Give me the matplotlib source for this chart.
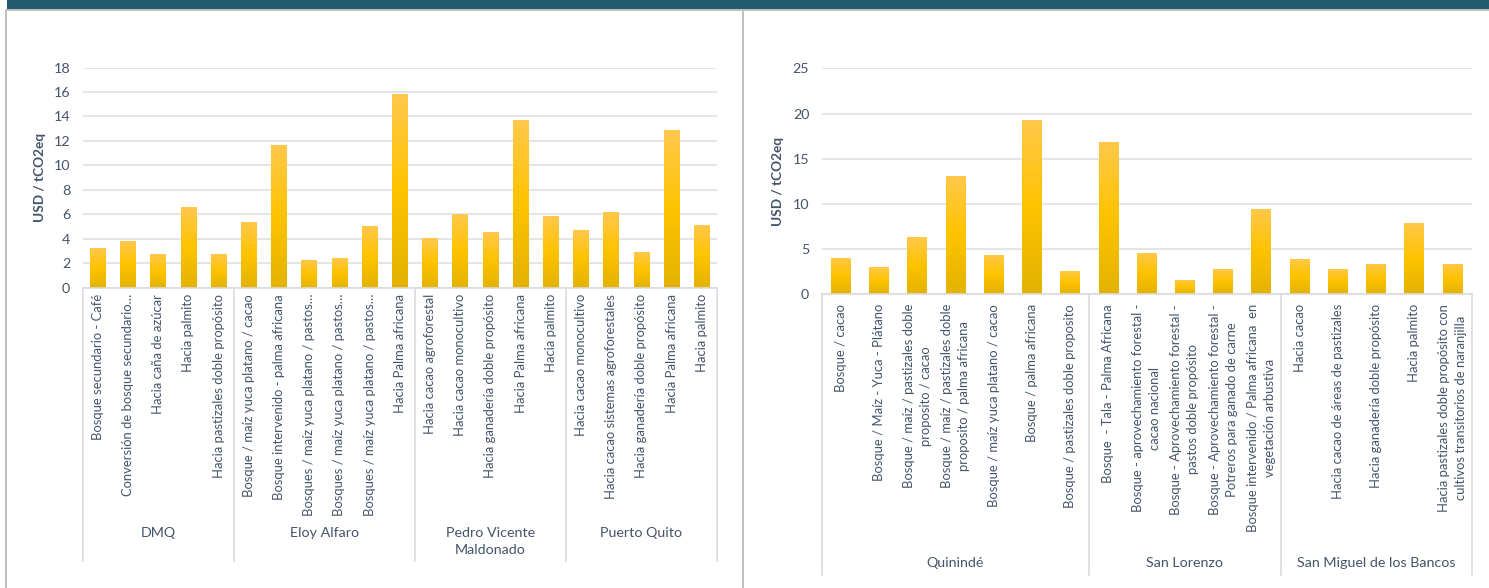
import numpy as np
import matplotlib
matplotlib.use("Agg")
import matplotlib.pyplot as plt
from matplotlib.colors import LinearSegmentedColormap
from matplotlib.transforms import blended_transform_factory
from matplotlib.patches import Rectangle
from matplotlib.lines import Line2D

W, H = 1489, 588

# ---- left chart data ----
left_groups = ["DMQ", "Eloy Alfaro", "Pedro Vicente\nMaldonado", "Puerto Quito"]
left_group_sizes = [5, 6, 5, 5]
left_labels = [
    "Bosque secundario - Café",
    "Conversión de bosque secundario…",
    "Hacia caña de azúcar",
    "Hacia palmito",
    "Hacia pastizales doble propósito",
    "Bosque / maíz yuca platano / cacao",
    "Bosque intervenido - palma africana",
    "Bosques / maíz yuca platano / pastos…",
    "Bosques / maíz yuca platano / pastos…",
    "Bosques / maíz yuca platano / pastos…",
    "Hacia Palma africana",
    "Hacia cacao agroforestal",
    "Hacia cacao monocultivo",
    "Hacia ganadería doble propósito",
    "Hacia Palma africana",
    "Hacia palmito",
    "Hacia cacao monocultivo",
    "Hacia cacao sistemas agroforestales",
    "Hacia ganadería doble propósito",
    "Hacia Palma africana",
    "Hacia palmito",
]
left_values = [3.23, 3.81, 2.74, 6.60, 2.74,
               5.37, 11.70, 2.25, 2.41, 5.04, 15.81,
               4.05, 6.03, 4.55, 13.67, 5.86,
               4.71, 6.19, 2.90, 12.85, 5.12]
left_yticks = [0, 2, 4, 6, 8, 10, 12, 14, 16, 18]

# ---- right chart data ----
right_groups = ["Quinindé", "San Lorenzo", "San Miguel de los Bancos"]
right_group_sizes = [7, 5, 5]
right_labels = [
    "Bosque / cacao",
    "Bosque / Maíz - Yuca - Plátano",
    "Bosque / maíz / pastizales doble\nproposito / cacao",
    "Bosque / maíz / pastizales doble\nproposito / palma africana",
    "Bosque / maíz yuca platano / cacao",
    "Bosque / palma africana",
    "Bosque / pastizales doble proposito",
    "Bosque  - Tala - Palma Africana",
    "Bosque - aprovechamiento forestal -\ncacao nacional",
    "Bosque - Aprovechamiento forestal -\npastos doble propósito",
    "Bosque - Aprovechamiento forestal -\nPotreros para ganado de carne",
    "Bosque intervenido / Palma africana  en\nvegetación arbustiva",
    "Hacia cacao",
    "Hacia cacao de áreas de pastizales",
    "Hacia ganadería doble propósito",
    "Hacia palmito",
    "Hacia pastizales doble propósito con\ncultivos transitorios de naranjilla",
]
right_values = [4.02, 3.02, 6.34, 13.09, 4.35, 19.28, 2.58,
                16.85, 4.57, 1.59, 2.80, 9.44,
                3.91, 2.80, 3.36, 7.89, 3.36]
right_yticks = [0, 5, 10, 15, 20, 25]

TEXT = "#44546A"
GRID = "#E1E3E8"
SEP = "#D9DCE2"
FONT = ["Lato", "DejaVu Sans"]
plt.rcParams["font.family"] = FONT

bar_cmap = LinearSegmentedColormap.from_list(
    "bar", ["#E3B200", "#FFC300", "#FFC84C"])


def fx(px):
    return px / W


def fy(py):
    return 1 - py / H


def draw_panel(fig, rect, values, labels, groups, sizes, yticks,
               zero_px, label_top_px, sep_bottom_px, group_top_px, ylabel_x_px):
    ax = fig.add_axes(rect)
    n = len(values)
    x = np.arange(n)
    bars = ax.bar(x, values, width=0.52, color="none", zorder=2)
    grad = np.linspace(0, 1, 256).reshape(-1, 1)
    for b in bars:
        x0, y0 = b.get_x(), b.get_y()
        im = ax.imshow(grad, cmap=bar_cmap, origin="lower", aspect="auto",
                       extent=(x0, x0 + b.get_width(), y0, y0 + b.get_height()),
                       zorder=2)
        im.set_clip_path(b)
    ax.set_xlim(-0.5, n - 0.5)
    ax.set_ylim(0, yticks[-1])
    ax.set_yticks(yticks)
    ax.set_xticks([])
    ax.grid(axis="y", color=GRID, lw=1.3, zorder=0)
    ax.set_axisbelow(True)
    for s in ["top", "right", "left"]:
        ax.spines[s].set_visible(False)
    ax.spines["bottom"].set_color(SEP)
    ax.spines["bottom"].set_linewidth(1.2)
    ax.tick_params(axis="y", length=0, pad=9, labelsize=10.3, labelcolor=TEXT)

    tr = blended_transform_factory(ax.transData, fig.transFigure)
    for i, lab in enumerate(labels):
        ax.text(i, fy(label_top_px), lab, transform=tr, rotation=90,
                ha="center", va="top", multialignment="center",
                fontsize=9.4, color=TEXT, linespacing=1.5)

    edges = np.concatenate([[0], np.cumsum(sizes)]) - 0.5
    for e in edges:
        fig.add_artist(Line2D([e, e], [fy(zero_px), fy(sep_bottom_px)],
                              transform=tr, color=SEP, lw=1.2))
    for g, a, b in zip(groups, edges[:-1], edges[1:]):
        ax.text((a + b) / 2, fy(group_top_px), g, transform=tr,
                ha="center", va="top", multialignment="center",
                fontsize=10.3, color=TEXT, linespacing=1.45)

    fig.text(fx(ylabel_x_px), rect[1] + rect[3] / 2, "USD / tCO2eq",
             rotation=90, ha="center", va="center", fontsize=9.8,
             fontweight="bold", color=TEXT)
    return ax


fig = plt.figure(figsize=(W / 100, H / 100), dpi=100)
fig.patch.set_facecolor("white")

# header strip and panel frames
fig.add_artist(Rectangle((fx(7), fy(8.7)), 1 - fx(7), 8.7 / H,
                         transform=fig.transFigure, color="#215A6A", lw=0))
fig.add_artist(Rectangle((fx(5), fy(10.7)), 1 - fx(5), 1.8 / H,
                         transform=fig.transFigure, color="#BFBFBF", lw=0))
fig.add_artist(Rectangle((fx(5), 0), 1.8 / W, fy(9),
                         transform=fig.transFigure, color="#BFBFBF", lw=0))
fig.add_artist(Rectangle((fx(742), 0), 2 / W, fy(9),
                         transform=fig.transFigure, color="#BFBFBF", lw=0))

left_rect = [fx(82.7), fy(287.5), (716.9 - 82.7) / W, (287.5 - 67.5) / H]
right_rect = [fx(821.7), fy(294.3), (1471.7 - 821.7) / W, (294.3 - 68.3) / H]

draw_panel(fig, left_rect, left_values, left_labels, left_groups,
           left_group_sizes, left_yticks, 287.5, 294, 561, 527, 40)
draw_panel(fig, right_rect, right_values, right_labels, right_groups,
           right_group_sizes, right_yticks, 294.3, 304, 575, 557, 778)

fig.savefig("out.png", dpi=100)
